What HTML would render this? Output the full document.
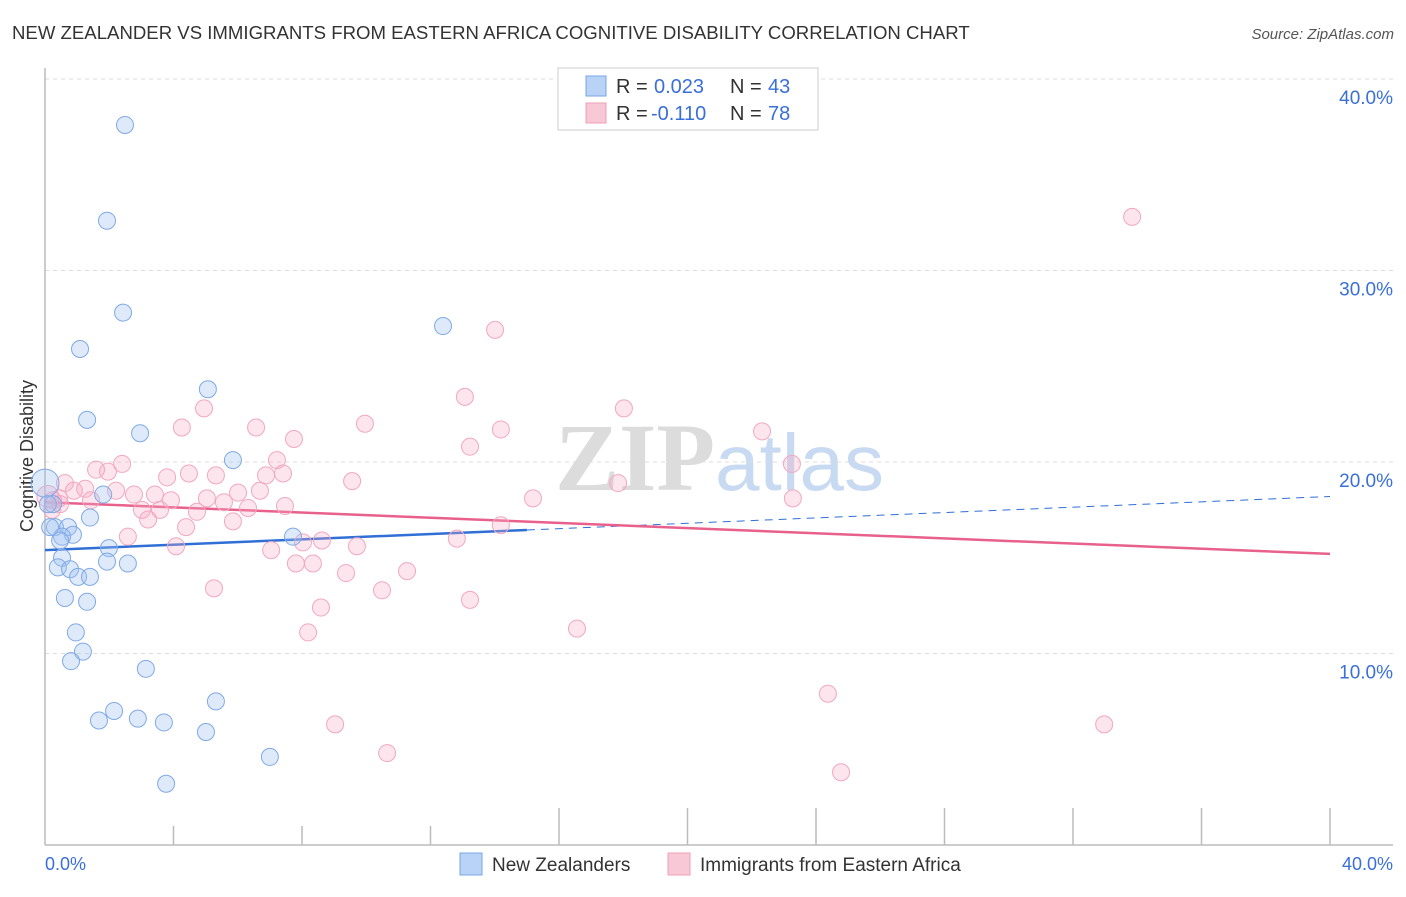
<!DOCTYPE html>
<html><head><meta charset="utf-8"><style>
body{margin:0;background:#fff;font-family:"Liberation Sans",sans-serif;}
</style></head><body>
<svg id="chart" width="1406" height="892" xmlns="http://www.w3.org/2000/svg">
<text x="12" y="39" font-size="18.6" fill="#333">NEW ZEALANDER VS IMMIGRANTS FROM EASTERN AFRICA COGNITIVE DISABILITY CORRELATION CHART</text>
<text x="1394" y="39" font-size="15" fill="#555" font-style="italic" text-anchor="end">Source: ZipAtlas.com</text>
<g>
<text x="555" y="490" font-size="96" font-family="Liberation Serif" fill="#dcdcdc" font-weight="bold">ZIP</text>
<text x="715" y="490" font-size="80" fill="#c8daf2">atlas</text>
</g>
<g id="grid"></g>
<line x1="45" y1="68" x2="45" y2="845" stroke="#bbb" stroke-width="1.5"/>
<line x1="45" y1="845" x2="1393" y2="845" stroke="#bbb" stroke-width="1.5"/>
<g id="ticks"></g>
<text x="33" y="456" font-size="18" fill="#333" text-anchor="middle" transform="rotate(-90 33 456)">Cognitive Disability</text>
<text x="45" y="870" font-size="18" fill="#3a6fd8">0.0%</text>
<text x="1393" y="870" font-size="18" fill="#3a6fd8" text-anchor="end">40.0%</text>
<g id="lines"></g>
<g id="pts"></g>
<g font-size="20">
<rect x="558" y="68" width="260" height="62" fill="#fff" stroke="#ccc"/>
<rect x="586" y="76" width="20" height="20" fill="#b8d3f5" stroke="#7aa6e6"/>
<text x="616" y="93" fill="#333">R =</text><text x="654" y="93" fill="#3a6fd8">0.023</text>
<text x="730" y="93" fill="#333">N =</text><text x="768" y="93" fill="#3a6fd8">43</text>
<rect x="586" y="103" width="20" height="20" fill="#f9c8d6" stroke="#f0a0b8"/>
<text x="616" y="120" fill="#333">R =</text><text x="651" y="120" fill="#3a6fd8">-0.110</text>
<text x="730" y="120" fill="#333">N =</text><text x="768" y="120" fill="#3a6fd8">78</text>
</g>
<g>
<rect x="460" y="853" width="22" height="22" fill="#b8d3f5" stroke="#7aa6e6"/>
<text x="492" y="871" font-size="19" fill="#333">New Zealanders</text>
<rect x="668" y="853" width="22" height="22" fill="#f9c8d6" stroke="#f0a0b8"/>
<text x="700" y="871" font-size="19" fill="#333">Immigrants from Eastern Africa</text>
</g>
</svg>
<script>
const yTicks=[10,20,30,40];
const yTickLabels=["10.0%","20.0%","30.0%","40.0%"];
const xTicks=[0,4,8,12,16,20,24,28,32,36,40];
const blueX=[2.49,1.93,2.43,1.09,12.39,5.07,1.31,2.96,5.85,0,1.81,0.25,0.31,0.72,1.40,0.87,0.53,7.72,1.99,0.53,0.40,0.78,1.93,2.58,1.03,1.40,0.62,1.31,0.96,1.18,0.81,3.14,5.32,1.68,2.15,2.89,3.70,5.01,7.00,3.77,0.16,0.09,0.47];
const blueY=[37.6,32.6,27.8,25.9,27.1,23.8,22.2,21.5,20.1,18.9,18.3,17.8,16.6,16.6,17.1,16.2,16.1,16.1,15.5,15.0,14.5,14.4,14.8,14.7,14.0,14.0,12.9,12.7,11.1,10.1,9.6,9.2,7.5,6.5,7.0,6.6,6.4,5.9,4.6,3.2,16.6,17.8,15.9];
const pinkX=[33.84,14.01,13.07,4.95,18.02,4.26,6.57,9.96,14.19,7.75,13.23,22.32,2.40,1.59,1.96,7.22,23.25,4.48,5.32,6.88,7.41,3.80,0.62,9.56,17.84,0.90,1.25,2.21,2.77,3.42,3.92,5.04,6.01,6.69,1.43,0.09,0.44,15.19,23.28,5.57,6.32,7.47,3.02,3.58,4.73,0.22,3.21,4.39,5.85,14.19,2.58,12.82,8.03,8.62,4.08,7.04,9.71,7.81,8.34,9.37,11.27,5.26,10.49,13.23,8.59,16.56,8.19,24.37,9.03,32.97,10.65,24.78,0.25,0.47];
const pinkY=[32.8,26.9,23.4,22.8,22.8,21.8,21.8,22.0,21.7,21.2,20.8,21.6,19.9,19.6,19.5,20.1,19.9,19.4,19.3,19.3,19.4,19.2,18.9,19.0,18.9,18.5,18.6,18.5,18.3,18.3,18.0,18.1,18.4,18.5,18.0,18.2,18.1,18.1,18.1,17.9,17.6,17.7,17.5,17.5,17.4,17.5,17.0,16.6,16.9,16.7,16.1,16.0,15.8,15.9,15.6,15.4,15.6,14.7,14.7,14.2,14.3,13.4,13.3,12.8,12.4,11.3,11.1,7.9,6.3,6.3,4.8,3.8,18.0,17.8];
const blueTrend=[15.4,16.45,18.2];
const pinkTrend=[17.9,15.2];
const NS="http://www.w3.org/2000/svg";
function sx(v){return 45+v*32.125;}
function sy(v){return 845-v*19.15;}
function mk(t,a,p){const e=document.createElementNS(NS,t);for(const k in a)e.setAttribute(k,a[k]);document.getElementById(p).appendChild(e);return e;}
yTicks.forEach((t,i)=>{
 const l=mk('line',{x1:45,x2:1393,y1:sy(t),y2:sy(t),stroke:'#ddd','stroke-dasharray':'4,4'},'grid');
 
 
 const tx=mk('text',{x:1393,y:sy(t)+25,'font-size':19,fill:'#3a6fd8','text-anchor':'end'},'grid');
 tx.textContent=yTickLabels[i];
 
 
});
xTicks.forEach((t,i)=>{
 if(i===0)return;
 const l=mk('line',{x1:sx(t),x2:sx(t),y1:(i<4?826:808),y2:845,stroke:'#bbb','stroke-width':1.5},'ticks');
 
 
});
function dot(x,y,r,fill,stroke,name){
 const c=mk('circle',{cx:sx(x),cy:sy(y),r:r,fill:fill,stroke:stroke,'stroke-width':1},'pts');
 
 
}
pinkX.forEach((x,i)=>dot(x,pinkY[i],(i===35?11:8.5),'rgba(246,170,194,0.3)','#f2a8bf','point-eastern-africa'));
blueX.forEach((x,i)=>dot(x,blueY[i],(i===9?14:8.5),'rgba(160,196,242,0.35)','#80a9e6','point-new-zealander'));
let l1=mk('line',{x1:sx(0),y1:sy(blueTrend[0]),x2:sx(15),y2:sy(blueTrend[1]),stroke:'#2f6fd6','stroke-width':2.5},'lines');


let l2=mk('line',{x1:sx(15),y1:sy(blueTrend[1]),x2:sx(40),y2:sy(blueTrend[2]),stroke:'#2f6fd6','stroke-width':1,'stroke-dasharray':'8,6'},'lines');


let l3=mk('line',{x1:sx(0),y1:sy(pinkTrend[0]),x2:sx(40),y2:sy(pinkTrend[1]),stroke:'#e8608c','stroke-width':2.5},'lines');


</script>
</body></html>
